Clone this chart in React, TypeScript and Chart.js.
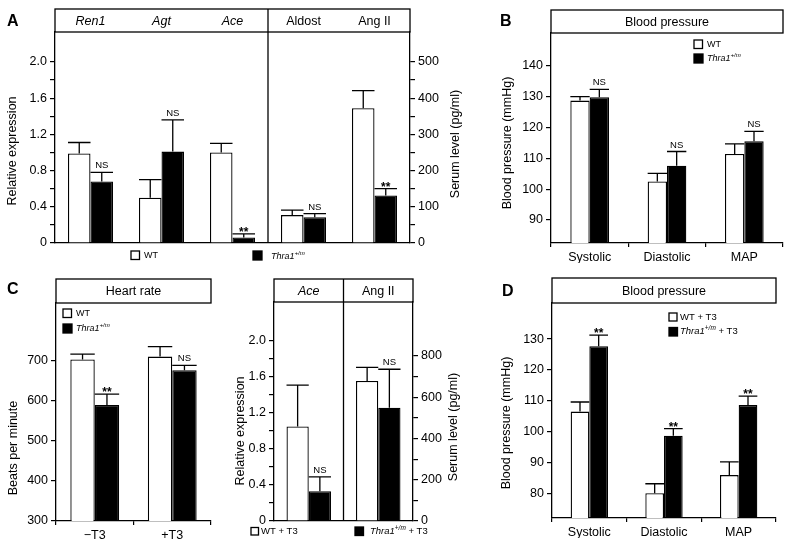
import { useEffect, useRef } from 'react';
import { Chart, registerables } from 'chart.js';

Chart.register(...registerables);

const FONT = '"Liberation Sans", Arial, Helvetica, sans-serif';
const PAGE_W = 788;
const PAGE_H = 547;
const LINE = 1.3;

// ===================== DATA =====================
// Panel A: renal gene expression (left axis) and serum levels (right axis)
const aGenes = ['Ren1', 'Agt', 'Ace'];
const aSerumItems = ['Aldost', 'Ang II'];
const aGeneWT = [0.99, 0.5, 1.0];
const aGeneWTErr = [0.12, 0.2, 0.1];
const aGeneKO = [0.68, 1.01, 0.06];
const aGeneKOErr = [0.1, 0.35, 0.04];
const aGeneSig = ['NS', 'NS', '**'];
const aSerumWT = [77, 372];
const aSerumWTErr = [14, 49];
const aSerumKO = [71, 131];
const aSerumKOErr = [10, 19];
const aSerumSig = ['NS', '**'];
const aExprTicks = [0, 0.4, 0.8, 1.2, 1.6, 2.0];
const aSerumTicks = [0, 100, 200, 300, 400, 500];

// Panel B: blood pressure
const bCategories = ['Systolic', 'Diastolic', 'MAP'];
const bWT = [128.7, 102.5, 111.4];
const bWTErr = [1.3, 2.6, 3.3];
const bKO = [129.8, 107.6, 115.5];
const bKOErr = [2.5, 4.6, 3.2];
const bSig = ['NS', 'NS', 'NS'];
const bTicks = [90, 100, 110, 120, 130, 140];

// Panel C (left): heart rate
const cCategories = ['\u2212T3', '+T3'];
const cWT = [704, 711];
const cWTErr = [13, 25];
const cKO = [590, 677];
const cKOErr = [27, 12];
const cSig = ['**', 'NS'];
const cTicks = [300, 400, 500, 600, 700];

// Panel C (right): Ace expression and Ang II serum level with T3
const c2Genes = ['Ace'];
const c2SerumItems = ['Ang II'];
const c2GeneWT = [1.05];
const c2GeneWTErr = [0.46];
const c2GeneKO = [0.33];
const c2GeneKOErr = [0.16];
const c2GeneSig = ['NS'];
const c2SerumWT = [679];
const c2SerumWTErr = [66];
const c2SerumKO = [549];
const c2SerumKOErr = [187];
const c2SerumSig = ['NS'];
const c2ExprTicks = [0, 0.4, 0.8, 1.2, 1.6, 2.0];
const c2SerumTicks = [0, 200, 400, 600, 800];

// Panel D: blood pressure with T3
const dCategories = ['Systolic', 'Diastolic', 'MAP'];
const dWT = [106.5, 80.0, 85.9];
const dWTErr = [3.1, 3.1, 4.3];
const dKO = [127.7, 98.7, 108.6];
const dKOErr = [3.6, 2.3, 2.9];
const dSig = ['**', '**', '**'];
const dTicks = [80, 90, 100, 110, 120, 130];

// Legend labels (text runs)
type Run = { t: string; i?: boolean; sup?: boolean };
const wtLabel: Run[] = [{ t: 'WT' }];
const koLabel: Run[] = [{ t: 'Thra1', i: true }, { t: '+/m', i: true, sup: true }];
const wtT3Label: Run[] = [{ t: 'WT + T3' }];
const koT3Label: Run[] = [{ t: 'Thra1', i: true }, { t: '+/m', i: true, sup: true }, { t: ' + T3' }];

// ===================== TYPES =====================
type Series = {
  label: string;
  data: (number | null)[];
  err: (number | null)[];
  sig?: (string | null)[];
  fill: string;
  axis: 'y' | 'y1';
};
type AxisSpec = { min: number; max: number; step: number; labels: number[]; decimals: number };
type LegendItem = { x: number; y: number; size: number; fill: string; tx: number; ty: number; fs: number; runs: Run[] };
type Spec = {
  id: string;
  area: [number, number, number, number]; // l, t, r, b
  headerTop: number;
  headerTitle?: string;
  headerItalic?: boolean[];
  dividerAfter?: number;
  categories: string[];
  showXLabels: boolean;
  xTicks: boolean;
  catPct: number;
  series: Series[];
  y: AxisSpec;
  y1?: AxisSpec;
  titles: { text: string; x: number; y: number }[];
  legend: LegendItem[];
  letter?: { text: string; x: number; y: number };
};

const nulls = (n: number) => Array.from({ length: n }, () => null);

// ===================== SPECS =====================
const specA: Spec = {
  id: 'A',
  area: [55, 32, 410, 243],
  headerTop: 9,
  headerItalic: [...aGenes.map(() => true), ...aSerumItems.map(() => false)],
  dividerAfter: aGenes.length - 1,
  categories: [...aGenes, ...aSerumItems],
  showXLabels: false,
  xTicks: false,
  catPct: 0.634,
  series: [
    { label: 'WT', data: [...aGeneWT, ...nulls(aSerumItems.length)], err: [...aGeneWTErr, ...nulls(aSerumItems.length)], fill: '#fff', axis: 'y' },
    { label: 'Thra1+/m', data: [...aGeneKO, ...nulls(aSerumItems.length)], err: [...aGeneKOErr, ...nulls(aSerumItems.length)], sig: [...aGeneSig, ...nulls(aSerumItems.length)], fill: '#000', axis: 'y' },
    { label: 'WT', data: [...nulls(aGenes.length), ...aSerumWT], err: [...nulls(aGenes.length), ...aSerumWTErr], fill: '#fff', axis: 'y1' },
    { label: 'Thra1+/m', data: [...nulls(aGenes.length), ...aSerumKO], err: [...nulls(aGenes.length), ...aSerumKOErr], sig: [...nulls(aGenes.length), ...aSerumSig], fill: '#000', axis: 'y1' },
  ],
  y: { min: 0, max: 2.331, step: 0.2, labels: aExprTicks, decimals: 1 },
  y1: { min: 0, max: 582.8, step: 50, labels: aSerumTicks, decimals: 0 },
  titles: [
    { text: 'Relative expression', x: 13, y: 151 },
    { text: 'Serum level (pg/ml)', x: 456, y: 144 },
  ],
  legend: [
    { x: 131, y: 251, size: 8.5, fill: '#fff', tx: 144, ty: 255.5, fs: 9, runs: wtLabel },
    { x: 253, y: 251, size: 9, fill: '#000', tx: 271, ty: 256, fs: 9, runs: koLabel },
  ],
  letter: { text: 'A', x: 7, y: 26 },
};

const specB: Spec = {
  id: 'B',
  area: [551, 33, 783, 243],
  headerTop: 10,
  headerTitle: 'Blood pressure',
  categories: bCategories,
  showXLabels: true,
  xTicks: true,
  catPct: 0.5,
  series: [
    { label: 'WT', data: bWT, err: bWTErr, fill: '#fff', axis: 'y' },
    { label: 'Thra1+/m', data: bKO, err: bKOErr, sig: bSig, fill: '#000', axis: 'y' },
  ],
  y: { min: 82.55, max: 150.6, step: 10, labels: bTicks, decimals: 0 },
  titles: [{ text: 'Blood pressure (mmHg)', x: 508, y: 143 }],
  legend: [
    { x: 694, y: 40, size: 8.5, fill: '#fff', tx: 707, ty: 44.5, fs: 9, runs: wtLabel },
    { x: 694, y: 54, size: 9, fill: '#000', tx: 707, ty: 58.5, fs: 9, runs: koLabel },
  ],
  letter: { text: 'B', x: 500, y: 26 },
};

const specC: Spec = {
  id: 'C',
  area: [56, 303, 211, 521],
  headerTop: 279,
  headerTitle: 'Heart rate',
  categories: cCategories,
  showXLabels: true,
  xTicks: true,
  catPct: 0.63,
  series: [
    { label: 'WT', data: cWT, err: cWTErr, fill: '#fff', axis: 'y' },
    { label: 'Thra1+/m', data: cKO, err: cKOErr, sig: cSig, fill: '#000', axis: 'y' },
  ],
  y: { min: 300, max: 845, step: 100, labels: cTicks, decimals: 0 },
  titles: [{ text: 'Beats per minute', x: 14, y: 448 }],
  legend: [
    { x: 63, y: 309, size: 8.5, fill: '#fff', tx: 76, ty: 313.5, fs: 9, runs: wtLabel },
    { x: 63, y: 324, size: 9, fill: '#000', tx: 76, ty: 328.5, fs: 9, runs: koLabel },
  ],
  letter: { text: 'C', x: 7, y: 294 },
};

const specC2: Spec = {
  id: 'C2',
  area: [274, 302, 413, 521],
  headerTop: 279,
  headerItalic: [...c2Genes.map(() => true), ...c2SerumItems.map(() => false)],
  dividerAfter: c2Genes.length - 1,
  categories: [...c2Genes, ...c2SerumItems],
  showXLabels: false,
  xTicks: false,
  catPct: 0.64,
  series: [
    { label: 'WT + T3', data: [...c2GeneWT, ...nulls(c2SerumItems.length)], err: [...c2GeneWTErr, ...nulls(c2SerumItems.length)], fill: '#fff', axis: 'y' },
    { label: 'Thra1+/m + T3', data: [...c2GeneKO, ...nulls(c2SerumItems.length)], err: [...c2GeneKOErr, ...nulls(c2SerumItems.length)], sig: [...c2GeneSig, ...nulls(c2SerumItems.length)], fill: '#000', axis: 'y' },
    { label: 'WT + T3', data: [...nulls(c2Genes.length), ...c2SerumWT], err: [...nulls(c2Genes.length), ...c2SerumWTErr], fill: '#fff', axis: 'y1' },
    { label: 'Thra1+/m + T3', data: [...nulls(c2Genes.length), ...c2SerumKO], err: [...nulls(c2Genes.length), ...c2SerumKOErr], sig: [...nulls(c2Genes.length), ...c2SerumSig], fill: '#000', axis: 'y1' },
  ],
  y: { min: 0, max: 2.433, step: 0.2, labels: c2ExprTicks, decimals: 1 },
  y1: { min: 0, max: 1062, step: 100, labels: c2SerumTicks, decimals: 0 },
  titles: [
    { text: 'Relative expression', x: 241, y: 431 },
    { text: 'Serum level (pg/ml)', x: 454, y: 427 },
  ],
  legend: [
    { x: 251, y: 527.5, size: 7.5, fill: '#fff', tx: 261, ty: 531.5, fs: 9.5, runs: wtT3Label },
    { x: 355, y: 527, size: 8.5, fill: '#000', tx: 370, ty: 531.5, fs: 9.5, runs: koT3Label },
  ],
};

const specD: Spec = {
  id: 'D',
  area: [552, 303, 776, 518],
  headerTop: 278,
  headerTitle: 'Blood pressure',
  categories: dCategories,
  showXLabels: true,
  xTicks: true,
  catPct: 0.5,
  series: [
    { label: 'WT + T3', data: dWT, err: dWTErr, fill: '#fff', axis: 'y' },
    { label: 'Thra1+/m + T3', data: dKO, err: dKOErr, sig: dSig, fill: '#000', axis: 'y' },
  ],
  y: { min: 72.0, max: 141.7, step: 10, labels: dTicks, decimals: 0 },
  titles: [{ text: 'Blood pressure (mmHg)', x: 507, y: 423 }],
  legend: [
    { x: 669, y: 313, size: 8, fill: '#fff', tx: 680, ty: 317, fs: 9.5, runs: wtT3Label },
    { x: 669, y: 327.5, size: 8.5, fill: '#000', tx: 680, ty: 331.5, fs: 9.5, runs: koT3Label },
  ],
  letter: { text: 'D', x: 502, y: 296 },
};

const SPECS = [specA, specB, specC, specC2, specD];

// ===================== CHART BUILDING =====================
const LW = 48;
const RW = 48;
const XH = 20;

function axisOptions(ax: AxisSpec, position: 'left' | 'right') {
  const lo = Math.min(...ax.labels);
  const hi = Math.max(...ax.labels);
  return {
    type: 'linear',
    position,
    min: ax.min,
    max: ax.max,
    bounds: 'ticks',
    grid: {
      display: true,
      drawOnChartArea: false,
      drawTicks: true,
      tickLength: 5,
      tickWidth: 1.2,
      tickColor: '#000',
      color: '#000',
      lineWidth: 1.2,
    },
    border: { display: true, color: '#000', width: LINE },
    ticks: {
      stepSize: ax.step,
      includeBounds: true,
      autoSkip: false,
      padding: 3,
      color: '#000',
      font: { size: 12.5, family: FONT },
      callback: (v: number) => {
        const hit = ax.labels.find((l) => Math.abs(l - v) < ax.step / 10);
        if (hit === undefined) return '';
        return hit === 0 ? '0' : hit.toFixed(ax.decimals);
      },
    },
    afterBuildTicks: (s: any) => {
      s.ticks = s.ticks.filter((t: any) => {
        if (t.value < lo - 1e-9 || t.value > hi + 1e-9) return false;
        const k = (t.value - lo) / ax.step;
        return Math.abs(k - Math.round(k)) < 1e-6;
      });
    },
    afterFit: (s: any) => {
      s.width = position === 'left' ? LW : RW;
    },
  };
}

function drawRuns(ctx: CanvasRenderingContext2D, runs: Run[], x: number, y: number, fs: number) {
  let cx = x;
  ctx.textAlign = 'left';
  ctx.textBaseline = 'middle';
  for (const r of runs) {
    const size = r.sup ? fs * 0.68 : fs;
    ctx.font = `${r.i ? 'italic ' : ''}${size}px ${FONT}`;
    const yy = r.sup ? y - fs * 0.33 : y;
    ctx.fillText(r.t, cx, yy);
    cx += ctx.measureText(r.t).width;
  }
}

function makePlugin(spec: Spec) {
  return {
    id: 'figure-' + spec.id,
    afterDatasetsDraw(chart: any) {
      const ctx: CanvasRenderingContext2D = chart.ctx;
      ctx.save();
      ctx.strokeStyle = '#000';
      ctx.fillStyle = '#000';
      ctx.lineWidth = LINE;
      spec.series.forEach((s, i) => {
        const meta = chart.getDatasetMeta(i);
        const ys = chart.scales[s.axis];
        s.data.forEach((v, j) => {
          const e = s.err[j];
          if (v == null || e == null) return;
          const el = meta.data[j];
          if (!el) return;
          const x = el.x;
          const w = el.width;
          const yTop = ys.getPixelForValue(v + e);
          ctx.beginPath();
          ctx.moveTo(x, el.y);
          ctx.lineTo(x, yTop);
          ctx.moveTo(x - w / 2, yTop);
          ctx.lineTo(x + w / 2, yTop);
          ctx.stroke();
          const sig = s.sig ? s.sig[j] : null;
          if (sig) {
            ctx.textAlign = 'center';
            ctx.textBaseline = 'alphabetic';
            if (sig === '**') {
              ctx.font = `bold 12px ${FONT}`;
              ctx.fillText(sig, x, yTop + 2);
            } else {
              ctx.font = `9.5px ${FONT}`;
              ctx.fillText(sig, x, yTop - 4);
            }
          }
        });
      });
      ctx.restore();
    },
    afterDraw(chart: any) {
      const ctx: CanvasRenderingContext2D = chart.ctx;
      const { left, right, top, bottom } = chart.chartArea;
      const xs = chart.scales.x;
      ctx.save();
      ctx.strokeStyle = '#000';
      ctx.fillStyle = '#000';
      ctx.lineWidth = LINE;
      // header box
      ctx.strokeRect(left, spec.headerTop, right - left, top - spec.headerTop);
      const hy = (spec.headerTop + top) / 2 + 1;
      ctx.textAlign = 'center';
      ctx.textBaseline = 'middle';
      if (spec.headerTitle) {
        ctx.font = `12.5px ${FONT}`;
        ctx.fillText(spec.headerTitle, (left + right) / 2, hy);
      } else {
        spec.categories.forEach((c, j) => {
          const italic = spec.headerItalic ? spec.headerItalic[j] : false;
          ctx.font = `${italic ? 'italic ' : ''}12.5px ${FONT}`;
          ctx.fillText(c, xs.getPixelForValue(j), hy);
        });
      }
      // divider between groups
      if (spec.dividerAfter !== undefined) {
        const k = spec.dividerAfter;
        const dx = (xs.getPixelForValue(k) + xs.getPixelForValue(k + 1)) / 2;
        ctx.beginPath();
        ctx.moveTo(dx, spec.headerTop);
        ctx.lineTo(dx, bottom);
        ctx.stroke();
      }
      // axis titles
      ctx.font = `12.5px ${FONT}`;
      for (const t of spec.titles) {
        ctx.save();
        ctx.translate(t.x, t.y);
        ctx.rotate(-Math.PI / 2);
        ctx.textAlign = 'center';
        ctx.textBaseline = 'middle';
        ctx.fillText(t.text, 0, 0);
        ctx.restore();
      }
      // legend
      for (const it of spec.legend) {
        ctx.fillStyle = it.fill;
        ctx.fillRect(it.x, it.y, it.size, it.size);
        ctx.strokeStyle = '#000';
        ctx.lineWidth = LINE;
        ctx.strokeRect(it.x, it.y, it.size, it.size);
        ctx.fillStyle = '#000';
        drawRuns(ctx, it.runs, it.tx, it.ty, it.fs);
      }
      // panel letter
      if (spec.letter) {
        ctx.font = `bold 16px ${FONT}`;
        ctx.textAlign = 'left';
        ctx.textBaseline = 'alphabetic';
        ctx.fillText(spec.letter.text, spec.letter.x, spec.letter.y);
      }
      ctx.restore();
    },
  };
}

function buildConfig(spec: Spec): any {
  const [l, t, r, b] = spec.area;
  const scales: any = {
    x: {
      type: 'category',
      offset: true,
      grid: {
        display: spec.xTicks,
        drawOnChartArea: false,
        drawTicks: true,
        tickLength: 4,
        offset: true,
        color: '#000',
        tickColor: '#000',
        lineWidth: 1.2,
      },
      border: { display: true, color: '#000', width: LINE },
      ticks: {
        display: spec.showXLabels,
        color: '#000',
        font: { size: 12.5, family: FONT },
        padding: 3,
        maxRotation: 0,
        autoSkip: false,
      },
      afterFit: (s: any) => {
        s.height = XH;
      },
    },
    y: axisOptions(spec.y, 'left'),
  };
  if (spec.y1) scales.y1 = axisOptions(spec.y1, 'right');
  return {
    type: 'bar',
    data: {
      labels: spec.categories,
      datasets: spec.series.map((s) => ({
        label: s.label,
        data: s.data,
        yAxisID: s.axis,
        backgroundColor: s.fill,
        borderColor: '#000',
        borderWidth: LINE,
        barPercentage: 1,
        categoryPercentage: spec.catPct,
        skipNull: true,
      })),
    },
    options: {
      animation: false,
      responsive: false,
      devicePixelRatio: 1,
      events: [],
      skipNull: true,
      layout: {
        padding: {
          left: l - LW,
          top: t,
          right: PAGE_W - r - (spec.y1 ? RW : 0),
          bottom: PAGE_H - b - XH,
        },
      },
      plugins: {
        legend: { display: false },
        tooltip: { enabled: false },
        title: { display: false },
      },
      scales,
    },
    plugins: [makePlugin(spec)],
  };
}

function Panel({ spec }: { spec: Spec }) {
  const ref = useRef<HTMLCanvasElement>(null);
  useEffect(() => {
    if (!ref.current) return;
    const chart = new Chart(ref.current, buildConfig(spec));
    return () => chart.destroy();
  }, [spec]);
  return (
    <canvas
      ref={ref}
      width={PAGE_W}
      height={PAGE_H}
      style={{ position: 'absolute', left: 0, top: 0, width: PAGE_W, height: PAGE_H }}
    />
  );
}

export default function App() {
  Chart.defaults.font.family = FONT;
  Chart.defaults.color = '#000';
  return (
    <div
      style={{
        position: 'absolute',
        left: 0,
        top: 0,
        width: PAGE_W,
        height: PAGE_H,
        background: '#fff',
        overflow: 'hidden',
      }}
    >
      {SPECS.map((s) => (
        <Panel key={s.id} spec={s} />
      ))}
    </div>
  );
}
